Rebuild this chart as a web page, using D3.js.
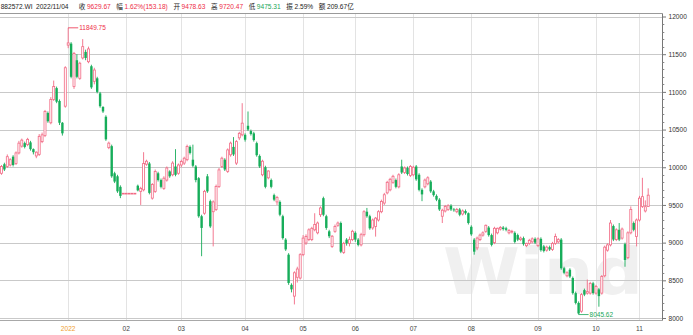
<!DOCTYPE html>
<html>
<head>
<meta charset="utf-8">
<script src="https://cdn.jsdelivr.net/npm/d3@7"></script>
<style>
  body { margin: 0; background: #fff; }
  svg { display: block; font-family: "Liberation Sans", Arial, "Noto Sans CJK SC", sans-serif; }
</style>
</head>
<body>
<svg id="chart" width="693" height="335"></svg>
<script>
// daily candles, [open, high, low, close], Dec 2021 .. 2022/11/04
const ohlc = [
  // Dec 2021
  [9920, 10030, 9900, 10010], [10040, 10060, 9950, 9970], [10010, 10170, 9990, 10140], [10030, 10120, 10010, 10100],
  [10140, 10160, 10010, 10030], [10050, 10210, 10030, 10190], [10190, 10350, 10170, 10320], [10280, 10380, 10260, 10360],
  [10320, 10340, 10250, 10270], [10300, 10390, 10280, 10370], [10330, 10350, 10220, 10240], [10240, 10250, 10170, 10200],
  [10150, 10210, 10120, 10200], [10170, 10440, 10150, 10410], [10340, 10460, 10320, 10430], [10420, 10760, 10400, 10740],
  [10720, 10740, 10590, 10610], [10590, 10930, 10570, 10900], [10900, 11150, 10880, 11070], [11050, 11070, 10850, 10870],
  [10880, 10900, 10560, 10590], [10590, 10600, 10420, 10450], [10810, 11340, 10790, 11320],
  // Jan
  [11620, 11849.75, 11580, 11650], [11640, 11660, 11180, 11200], [11070, 11530, 11040, 11510], [11420, 11500, 11180, 11200],
  [11180, 11400, 11160, 11380], [11450, 11700, 11430, 11600], [11530, 11560, 11420, 11450], [11400, 11600, 11380, 11570],
  [11340, 11360, 11040, 11060], [11140, 11320, 11100, 11290], [11180, 11200, 10980, 11000], [10980, 11000, 10790, 10810],
  [10800, 10810, 10720, 10740], [10670, 10690, 10350, 10370], [10260, 10340, 10240, 10320], [10280, 10300, 9860, 9880],
  [9920, 9940, 9790, 9810], [9880, 9900, 9660, 9680], [9740, 9760, 9590, 9620],
  [9655, 9655, 9655, 9655],
  // Feb
  [9655, 9655, 9655, 9655], [9655, 9655, 9655, 9655], [9655, 9655, 9655, 9655], [9655, 9655, 9655, 9655],
  [9755, 9770, 9680, 9693], [9680, 9740, 9500, 9720], [9700, 10200, 9680, 10050], [10040, 10100, 10020, 10080],
  [10050, 10070, 9640, 9660], [9590, 9790, 9570, 9770], [9680, 9970, 9660, 9945], [9920, 9940, 9810, 9830],
  [9830, 9850, 9720, 9740], [9720, 9880, 9700, 9855], [9830, 10010, 9810, 9990], [9945, 9960, 9860, 9880],
  [9900, 10080, 9880, 10055], [10010, 10240, 9880, 9900], [9920, 10050, 9900, 10030],
  // Mar
  [10030, 10100, 10000, 10075], [10055, 10140, 10030, 10120], [10100, 10300, 10080, 10275], [10270, 10290, 10170, 10190],
  [10100, 10300, 10000, 10020], [10010, 10030, 9800, 9830], [9855, 9870, 9330, 9350], [9350, 9370, 8820, 9195],
  [9390, 9700, 9370, 9680], [9880, 9910, 9660, 9680], [9550, 9570, 9195, 9215], [9410, 9560, 8950, 9540],
  [9440, 9770, 9420, 9745], [9745, 9990, 9725, 9965], [10010, 10140, 9990, 10120], [10100, 10120, 9950, 9970],
  [9945, 10250, 9925, 10230], [10165, 10340, 10140, 10320], [10270, 10400, 10150, 10170], [10055, 10360, 10030, 10340],
  [10390, 10470, 10360, 10450], [10430, 10850, 10410, 10585],
  // Apr
  [10430, 10450, 10340, 10365], [10550, 10740, 10480, 10500], [10480, 10500, 10420, 10440], [10450, 10470, 10340, 10360],
  [10320, 10340, 10140, 10160], [10150, 10170, 9990, 10010], [9900, 10100, 9880, 10080], [10000, 10020, 9720, 9740],
  [9860, 9960, 9840, 9950], [9830, 9850, 9720, 9740], [9630, 9650, 9550, 9570], [9540, 9620, 9500, 9600],
  [9540, 9560, 9350, 9370], [9350, 9370, 9040, 9060], [9040, 9060, 8890, 8910], [8840, 8860, 8440, 8465],
  [8440, 8460, 8340, 8380], [8290, 8620, 8180, 8600], [8540, 8680, 8470, 8650], [8530, 8860, 8510, 8840],
  // May
  [8840, 9100, 8820, 9060], [8995, 9110, 8970, 9080], [9040, 9190, 9020, 9170], [9040, 9210, 9020, 9190],
  [9170, 9390, 9150, 9240], [9130, 9280, 9110, 9260], [9370, 9480, 9340, 9460], [9590, 9610, 9350, 9370],
  [9350, 9370, 9170, 9195], [9150, 9170, 9060, 9085], [8950, 9100, 8930, 9085], [9150, 9240, 9130, 9215],
  [9230, 9280, 9210, 9260], [9260, 9280, 8860, 8880], [8870, 9010, 8850, 8990], [9040, 9060, 8960, 8990],
  [8990, 9080, 8950, 9040], [9040, 9170, 9020, 9150],
  // Jun
  [9130, 9150, 9010, 9040], [9040, 9060, 8950, 8970], [8970, 9130, 8950, 9105], [9105, 9430, 9080, 9410],
  [9410, 9460, 9330, 9350], [9350, 9370, 9170, 9190], [9195, 9320, 9170, 9300], [9215, 9340, 9080, 9325],
  [9300, 9430, 9280, 9410], [9410, 9570, 9390, 9545], [9525, 9660, 9500, 9635], [9660, 9820, 9640, 9800],
  [9700, 9860, 9680, 9840], [9800, 9900, 9780, 9880], [9830, 9850, 9720, 9740], [9740, 9920, 9720, 9900],
  [10010, 10100, 9910, 9930], [9930, 10010, 9910, 9990], [9990, 10010, 9890, 9910], [9890, 10030, 9870, 10010],
  // Jul
  [9900, 10020, 9880, 10000], [10010, 10030, 9820, 9840], [9900, 9920, 9680, 9700], [9700, 9720, 9550, 9640],
  [9740, 9850, 9720, 9830], [9780, 9880, 9760, 9860], [9810, 9830, 9660, 9680], [9680, 9700, 9610, 9630],
  [9620, 9640, 9550, 9570], [9570, 9590, 9420, 9440], [9350, 9450, 9260, 9430], [9420, 9500, 9400, 9480],
  [9440, 9510, 9420, 9490], [9490, 9510, 9420, 9440], [9440, 9460, 9410, 9430], [9410, 9460, 9390, 9440],
  [9440, 9460, 9350, 9370], [9380, 9440, 9360, 9420], [9420, 9440, 9370, 9390], [9390, 9400, 9240, 9260],
  // Aug
  [9210, 9230, 9090, 9110], [9040, 9060, 8840, 8880], [8930, 9080, 8900, 9060], [9040, 9120, 9020, 9100],
  [9100, 9150, 9080, 9130], [9150, 9240, 9130, 9230], [9200, 9220, 9080, 9100], [9100, 9120, 8950, 8970],
  [9000, 9210, 8980, 9190], [9130, 9200, 9110, 9190], [9180, 9220, 9160, 9200], [9200, 9220, 9160, 9180],
  [9190, 9210, 9150, 9170], [9130, 9180, 9110, 9160], [9140, 9170, 9120, 9150], [9130, 9150, 8990, 9010],
  [9100, 9120, 9020, 9040], [9040, 9080, 9020, 9060], [9060, 9080, 8960, 8980], [8960, 9000, 8940, 8990],
  [8990, 9050, 8970, 9030], [9010, 9070, 8990, 9050], [9050, 9070, 8980, 9000],
  // Sep
  [8960, 9070, 8940, 9050], [9050, 9070, 8880, 8900], [8950, 8970, 8870, 8890], [8900, 8960, 8880, 8940],
  [8940, 8960, 8890, 8910], [8910, 9010, 8890, 8990], [8990, 9120, 8970, 9080], [9010, 9060, 8990, 9040],
  [9040, 9060, 8640, 8660], [8660, 8680, 8580, 8600], [8560, 8620, 8540, 8600], [8640, 8660, 8530, 8550],
  [8530, 8550, 8310, 8330], [8330, 8350, 8180, 8200], [8200, 8220, 8045.62, 8060], [8090, 8330, 8070, 8310],
  [8370, 8390, 8290, 8310], [8330, 8510, 8310, 8350], [8330, 8480, 8310, 8460], [8460, 8480, 8310, 8330],
  // Oct
  [8330, 8440, 8310, 8420], [8380, 8400, 8150, 8290], [8330, 8570, 8310, 8550], [8560, 8960, 8540, 8940],
  [8900, 8990, 8880, 8970], [8970, 9300, 8950, 9260], [9220, 9240, 9020, 9040], [9040, 9190, 9020, 9170],
  [9170, 9260, 9020, 9040], [9060, 9200, 9040, 9180], [8980, 9000, 8680, 8770], [8800, 9150, 8780, 9130],
  [9130, 9480, 9110, 9440], [9260, 9280, 9150, 9170], [9080, 9320, 8950, 9300],
  // Nov
  [9300, 9620, 9280, 9590], [9480, 9860, 9460, 9610], [9420, 9560, 9400, 9476.49], [9478.63, 9720.47, 9475.31, 9629.67]
];

// candle index of the first session of each month
const monthTicks = [23, 43, 62, 84, 104, 122, 142, 162, 185, 205, 220];
const monthLabels = ["2022", "02", "03", "04", "05", "06", "07", "08", "09", "10", "11"];
const yTicks = [8000, 8500, 9000, 9500, 10000, 10500, 11000, 11500, 12000];
const yMinorStep = 100;

const headerCode = "882572.WI";
const headerDate = "2022/11/04";
const quoteLabels = ["收", "幅", "开", "高", "低", "振", "额"];
const quoteValues = ["9629.67", "1.62%(153.18)", "9478.63", "9720.47", "9475.31", "2.59%", "209.67亿"];
const quoteKinds = ["up", "up", "up", "up", "down", "flat", "flat"];

const plot = { left: 0, right: 662.5, top: 13.5, bottom: 320.5 };
const UP = "#f26a84", DOWN = "#17ad5a", TXT_UP = "#ee2c47", TXT_DOWN = "#18a657";

const svg = d3.select("#chart");
const N = ohlc.length;

const x = d3.scaleLinear().domain([0, N - 1]).range([1.5, 1.5 + 2.9 * (N - 1)]);
const y = d3.scaleLinear().domain([8000, 12000]).range([318, 16.5]);

svg.append("defs").append("clipPath").attr("id", "plotClip")
  .append("rect").attr("x", plot.left).attr("y", plot.top)
  .attr("width", plot.right - plot.left).attr("height", plot.bottom - plot.top);

// watermark
svg.append("text")
  .attr("x", 443).attr("y", 294)
  .attr("font-family", "DejaVu Sans").attr("font-weight", "bold")
  .attr("font-size", 64)
  .attr("textLength", 200).attr("lengthAdjust", "spacingAndGlyphs")
  .attr("fill", "#f0f0f0")
  .text("Wind");

// grid
const grid = svg.append("g");
grid.selectAll(".vgrid").data(monthTicks).join("line")
  .attr("x1", d => Math.round(x(d)) + 0.5).attr("x2", d => Math.round(x(d)) + 0.5)
  .attr("y1", plot.top).attr("y2", plot.bottom)
  .attr("stroke", "#e3e3e3");
grid.selectAll(".hgrid").data(yTicks).join("line")
  .attr("x1", plot.left).attr("x2", plot.right)
  .attr("y1", d => Math.round(y(d)) + 0.5).attr("y2", d => Math.round(y(d)) + 0.5)
  .attr("stroke", "#c9c9c9");

// frame
svg.append("line").attr("x1", 0).attr("x2", plot.right).attr("y1", plot.top).attr("y2", plot.top).attr("stroke", "#9a9a9a");
svg.append("line").attr("x1", 0).attr("x2", plot.right).attr("y1", plot.bottom).attr("y2", plot.bottom).attr("stroke", "#a8a8a8");

// right axis
const minorTicks = d3.range(8000, 12001, yMinorStep).filter(v => v % 500 !== 0);
const axis = svg.append("g").attr("transform", `translate(${plot.right},0)`);
axis.call(d3.axisRight(y).tickValues(yTicks).tickSize(3.5).tickPadding(2.5).tickFormat(d3.format("d")))
  .call(g => g.select(".domain").attr("d", `M0,${plot.top}V${plot.bottom}`).attr("stroke", "#777"))
  .call(g => g.selectAll(".tick line").attr("stroke", "#777"))
  .call(g => g.selectAll("text").attr("font-size", 6.6).attr("fill", "#333").attr("font-family", "Liberation Sans, Arial"));
axis.selectAll(".minor").data(minorTicks).join("line")
  .attr("x1", 0).attr("x2", 1.8)
  .attr("y1", d => Math.round(y(d)) + 0.5).attr("y2", d => Math.round(y(d)) + 0.5)
  .attr("stroke", "#888");

// month labels
svg.append("g").selectAll("text").data(monthTicks).join("text")
  .attr("x", d => x(d)).attr("y", 330.5)
  .attr("text-anchor", "middle")
  .attr("font-size", 6.6)
  .attr("fill", (d, i) => i === 0 ? "#f0a030" : "#444")
  .text((d, i) => monthLabels[i]);

// candles
const candles = svg.append("g").attr("clip-path", "url(#plotClip)");
const rows = candles.selectAll("g").data(ohlc).join("g");
rows.append("line")
  .attr("x1", (d, i) => x(i)).attr("x2", (d, i) => x(i))
  .attr("y1", d => y(d[1])).attr("y2", d => y(d[2]))
  .attr("stroke", d => d[3] >= d[0] ? UP : DOWN)
  .attr("stroke-width", 0.9);
rows.append("rect")
  .attr("x", (d, i) => d[3] >= d[0] ? x(i) - 1 : x(i) - 1.2)
  .attr("width", d => d[3] >= d[0] ? 2 : 2.4)
  .attr("y", d => y(Math.max(d[0], d[3])))
  .attr("height", d => Math.max(Math.abs(y(d[0]) - y(d[3])), 0.8))
  .attr("fill", d => d[3] >= d[0] ? "#fff" : DOWN)
  .attr("stroke", d => d[3] >= d[0] ? UP : "none")
  .attr("stroke-width", 0.8);

// max / min markers
const iMax = d3.maxIndex(ohlc, d => d[1]);
const iMin = d3.minIndex(ohlc, d => d[2]);
const marks = [
  { i: iMax, v: ohlc[iMax][1], color: TXT_UP },
  { i: iMin, v: ohlc[iMin][2], color: TXT_DOWN }
];
const mk = svg.append("g").selectAll("g").data(marks).join("g");
mk.append("line")
  .attr("x1", d => x(d.i)).attr("x2", d => x(d.i) + 10)
  .attr("y1", d => y(d.v)).attr("y2", d => y(d.v))
  .attr("stroke", d => d.color).attr("stroke-width", 0.8);
mk.append("text")
  .attr("x", d => x(d.i) + 11).attr("y", d => y(d.v))
  .attr("dy", "0.35em")
  .attr("font-size", 6.5)
  .attr("fill", d => d.color)
  .text(d => d3.format(".2f")(d.v));

// header
const head = svg.append("g").attr("font-size", 6.6).attr("font-family", "Liberation Sans, Arial, Noto Sans CJK SC");
head.append("text").attr("x", 0.7).attr("y", 8.7).attr("fill", "#222").text(headerCode);
head.append("text").attr("x", 36).attr("y", 8.7).attr("fill", "#222").text(headerDate);
let cx = 78.7;
quoteLabels.forEach((lab, k) => {
  const t1 = head.append("text").attr("x", cx).attr("y", 8.7).attr("fill", "#222")
    .attr("font-family", "Noto Sans CJK SC").text(lab);
  cx += t1.node().getComputedTextLength() + 1.6;
  const col = quoteKinds[k] === "up" ? TXT_UP : quoteKinds[k] === "down" ? TXT_DOWN : "#222";
  const t2 = head.append("text").attr("x", cx).attr("y", 8.7).attr("fill", col).text(quoteValues[k]);
  cx += t2.node().getComputedTextLength() + 5.6;
});
</script>
</body>
</html>
